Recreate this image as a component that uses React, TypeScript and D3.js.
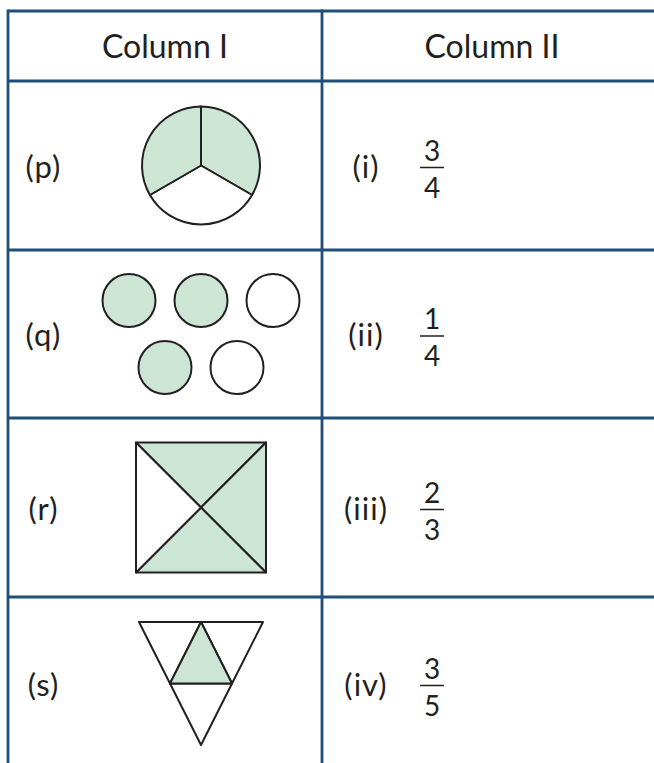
import React from "react";
import * as d3 from "d3";

// ---- data ----
const headers = ["Column I", "Column II"];
const leftLabels = ["(p)", "(q)", "(r)", "(s)"];
const rightLabels = ["(i)", "(ii)", "(iii)", "(iv)"];
const numerators = [3, 1, 2, 3];
const denominators = [4, 4, 3, 5];
// shading of each figure's parts (1 = shaded)
const pieParts = [1, 0, 1]; // thirds, clockwise from 12 o'clock
const circleParts = [1, 1, 0, 1, 0]; // top row (3) then bottom row (2)
const squareParts = [1, 1, 1, 0]; // top, right, bottom, left triangles
const triangleParts = [0, 0, 0, 1]; // left, right, bottom corners, centre

// ---- layout ----
const W = 654;
const H = 763;
const rowEdges = [11, 81, 250, 418, 597, 770];
const colEdges = [8, 322, 700];
const GREEN = "#cce5d5";
const INK = "#231f20";
const BLUE = "#1f4e79";
const FONT = "Lato, 'Open Sans', sans-serif";

export default function App() {
  const rows = d3.range(4).map((i) => ({
    top: rowEdges[i + 1],
    bottom: rowEdges[i + 2],
    cy: (rowEdges[i + 1] + rowEdges[i + 2]) / 2,
  }));
  const figX = 201;

  // pie
  const pie = d3.pie<number>().sort(null).value(1)(pieParts);
  const arc = d3.arc<d3.PieArcDatum<number>>().innerRadius(0).outerRadius(59);

  // circles grid
  const cxScale = d3.scaleLinear().domain([0, 1]).range([0, 72]);
  const circlePos = circleParts.map((_, i) => {
    const top = i < 3;
    const k = top ? i - 1 : i - 3 - 0.5;
    return { x: figX + cxScale(k), y: top ? -33.5 : 33.5 };
  });

  // square triangles
  const s = 65;
  const sqCorners = [
    [-s, -s],
    [s, -s],
    [s, s],
    [-s, s],
  ];
  const sqTris = squareParts.map((_, i) => [
    [0, 0],
    sqCorners[i],
    sqCorners[(i + 1) % 4],
  ]);

  // triangle
  const A = [-62, -61.5];
  const B = [62, -61.5];
  const C = [0, 61.5];
  const mid = (p: number[], q: number[]) => [(p[0] + q[0]) / 2, (p[1] + q[1]) / 2];
  const mAB = mid(A, B), mAC = mid(A, C), mBC = mid(B, C);
  const triPolys = [
    [A, mAB, mAC],
    [mAB, B, mBC],
    [mAC, mBC, C],
    [mAB, mBC, mAC],
  ];
  const poly = (pts: number[][]) => d3.line()(pts as [number, number][]) + "Z";

  const lineStyle = { stroke: BLUE, strokeWidth: 2.8 };

  return (
    <svg
      width={W}
      height={H}
      style={{ position: "absolute", left: 0, top: 0, background: "#fff" }}
      fontFamily={FONT}
    >
      <rect width={W} height={H} fill="#fff" />
      {/* headers */}
      {headers.map((h, i) => (
        <text
          key={h}
          x={i === 0 ? 165 : 492}
          y={(rowEdges[0] + rowEdges[1]) / 2 + 12}
          textAnchor="middle"
          fontSize={32}
          fill={INK}
        >
          {h}
        </text>
      ))}

      {/* figures */}
      <g transform={`translate(${figX},${rows[0].cy})`}>
        {pie.map((d, i) => (
          <path key={i} d={arc(d) || ""} fill={pieParts[i] ? GREEN : "#fff"} stroke={INK} strokeWidth={2} strokeLinejoin="round" />
        ))}
      </g>
      <g transform={`translate(0,${rows[1].cy})`}>
        {circlePos.map((p, i) => (
          <circle key={i} cx={p.x} cy={p.y} r={26.5} fill={circleParts[i] ? GREEN : "#fff"} stroke={INK} strokeWidth={2} />
        ))}
      </g>
      <g transform={`translate(${figX},${rows[2].cy})`}>
        {sqTris.map((t, i) => (
          <path key={i} d={poly(t)} fill={squareParts[i] ? GREEN : "#fff"} stroke={INK} strokeWidth={2} strokeLinejoin="round" />
        ))}
      </g>
      <g transform={`translate(${figX},${rows[3].cy})`}>
        {triPolys.map((t, i) => (
          <path key={i} d={poly(t)} fill={triangleParts[i] ? GREEN : "#fff"} stroke={INK} strokeWidth={2} strokeLinejoin="round" />
        ))}
      </g>

      {/* labels and fractions */}
      {rows.map((r, i) => (
        <g key={i}>
          <text x={43.5} y={r.cy + 12} textAnchor="middle" fontSize={31} fill={INK} letterSpacing={1}>
            {leftLabels[i]}
          </text>
          <text x={366} y={r.cy + 12} textAnchor="middle" fontSize={31} fill={INK} letterSpacing={1}>
            {rightLabels[i]}
          </text>
          <text x={432} y={r.cy + 2 - 7} textAnchor="middle" fontSize={28} fill={INK}>
            {numerators[i]}
          </text>
          <line x1={420} x2={444} y1={r.cy + 2} y2={r.cy + 2} stroke={INK} strokeWidth={1.5} />
          <text x={432} y={r.cy + 2 + 30} textAnchor="middle" fontSize={28} fill={INK}>
            {denominators[i]}
          </text>
        </g>
      ))}

      {/* table lines */}
      {rowEdges.slice(0, 5).map((y) => (
        <line key={y} x1={colEdges[0]} x2={W} y1={y} y2={y} {...lineStyle} />
      ))}
      {colEdges.slice(0, 2).map((x) => (
        <line key={x} x1={x} x2={x} y1={rowEdges[0] - 1.4} y2={H} {...lineStyle} />
      ))}
    </svg>
  );
}
